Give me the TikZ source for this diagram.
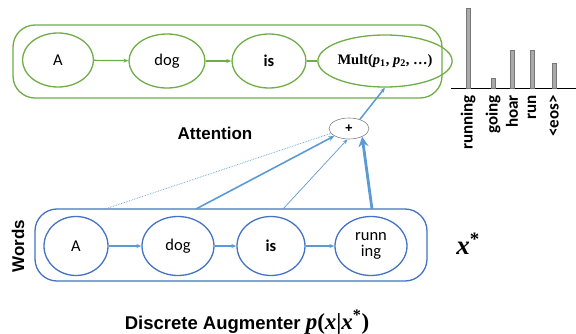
\documentclass[tikz,border=0pt]{standalone}
\usepackage{amsmath}
\usepackage{fontspec}
\setsansfont{Carlito}
\newfontfamily\arialfont{Liberation Sans}
\newfontfamily\mathlikefont{Liberation Serif}
\usetikzlibrary{shapes.geometric,arrows.meta}
\definecolor{attGreen}{RGB}{112,173,71}
\definecolor{augBlue}{RGB}{68,114,196}
\definecolor{linkBlue}{RGB}{91,155,213}
\definecolor{barGray}{RGB}{170,170,170}
\definecolor{barEdge}{RGB}{120,120,120}
\newcommand{\bvar}[1]{{\mathlikefont\bfseries\itshape #1}}
\newcommand{\bsym}[1]{{\mathlikefont\bfseries #1}}
\tikzset{>=stealth,
    outer/.style={draw=#1, line width=1.3pt, rounded corners=22pt},
    token/.style={ellipse, draw=#1, line width=1.3pt, inner sep=0pt, minimum height=54pt,
        font=\sffamily\fontsize{16.5}{16.5}\selectfont},
    garrow/.style={attGreen, line width=1.2pt, -{Stealth[length=5pt,width=4pt]}},
    barrow/.style={linkBlue, line width=1.2pt, -{Stealth[length=5pt,width=4pt]}},
    title/.style={font=\arialfont\bfseries\fontsize{17}{17}\selectfont},
    bar/.style={fill=barGray, draw=barEdge, line width=0.6pt},
    barlabel/.style={rotate=90, anchor=east, inner sep=0pt, font=\sffamily\bfseries\fontsize{17}{17}\selectfont}}

\begin{document}
\begin{tikzpicture}[x=1pt, y=1pt]
    \useasboundingbox (0,0) rectangle (576,333);
    % attention row
    \node[outer=attGreen, minimum width=429pt, minimum height=73pt] (attbox) at (227.5,271.5) {};
    \node[token=attGreen, minimum width=71pt] (topA) at (58,273) {A};
    \node[token=attGreen, minimum width=76pt] (topdog) at (167,272) {dog};
    \node[token=attGreen, minimum width=74pt] (topis) at (269,272) {\bfseries is};
    \node[token=attGreen, minimum width=105pt, minimum height=52pt, font=\mathlikefont\bfseries\fontsize{14.5}{14.5}\selectfont] (topmult) at (385,272) {Mult(\bvar{p}\textsubscript{1}, \bvar{p}\textsubscript{2}, \ldots)};
    \draw[garrow] (topA) -- (topdog);
    \draw[garrow] (topdog) -- (topis);
    \draw[attGreen, line width=1.2pt] (topis) -- (topmult);
    % words row
    \node[outer=augBlue, minimum width=392pt, minimum height=72pt] (wordbox) at (231,88) {};
    \node[token=augBlue, minimum width=64pt, minimum height=59pt] (botA) at (76,87) {A};
    \node[token=augBlue, minimum width=72pt, minimum height=59pt] (botdog) at (178,87) {dog};
    \node[token=augBlue, minimum width=68pt, minimum height=59pt] (botis) at (271,87) {\bfseries is};
    \node[token=augBlue, minimum width=72pt, minimum height=59pt, align=center] (botrun) at (371,87) {runn\\[-1pt]ing};
    \draw[barrow] (botA) -- (botdog);
    \draw[barrow] (botdog) -- (botis);
    \draw[barrow] (botis) -- (botrun);
    % attention sum
    \node[ellipse, draw=gray, line width=0.6pt, inner sep=0pt, minimum width=40pt, minimum height=21pt,
        font=\arialfont\bfseries\fontsize{13}{13}\selectfont] (plus) at (349,204.5) {+};
    \coordinate (fromA) at (105,124);
    \coordinate (fromdog) at (196,124);
    \coordinate (fromis) at (283,124);
    \coordinate (fromrun) at (372,124);
    \draw[linkBlue, line width=0.7pt, densely dotted] (fromA) -- (plus.195);
    \draw[linkBlue, line width=1.6pt, -{Stealth[length=6pt,width=5pt]}] (fromdog) -- (plus.207);
    \draw[linkBlue, line width=0.7pt, -{Stealth[length=5pt,width=4pt]}] (fromis) -- (plus.262);
    \draw[linkBlue, line width=2.8pt, -{Stealth[length=10pt,width=10pt]}] (fromrun) -- (plus.-32);
    \draw[linkBlue, line width=1.5pt, -{Stealth[length=5pt,width=4pt]}] (plus.40) -- (topmult.south);
    % labels
    \node[title] (attlabel) at (215,200) {Attention};
    \node[title, rotate=90] (wordslabel) at (18,87) {Words};
    \node[font=\fontsize{27}{27}\selectfont] (xstar) at (468,89) {\bvar{x}\textsuperscript{\bsym{*}}};
    \node[title, font=\arialfont\bfseries\fontsize{18.5}{19}\selectfont] (auglabel) at (247,11) {Discrete Augmenter {\fontsize{23}{23}\selectfont\bvar{p}\bsym{(}\bvar{x}\bsym{|}\bvar{x}\textsuperscript{\bsym{*}}\bsym{)}}};
    % output distribution
    \draw[line width=1pt] (451,245) -- (576,245);
    \foreach \x/\h/\w [count=\i] in {468/325/running, 493/255/going, 512/283/hoar, 532/283/run, 554/270/{<eos>}} {
        \draw[bar] (\x-2,245) rectangle (\x+2,\h);
        \node[barlabel] (word\i) at (\x,238) {\w};
    }
\end{tikzpicture}
\end{document}
